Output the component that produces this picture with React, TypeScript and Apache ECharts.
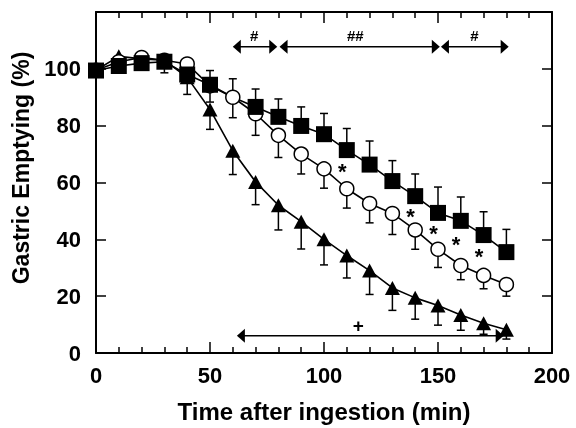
import React, { useEffect, useRef } from 'react';
import * as echarts from 'echarts';

const times = [0, 10, 20, 30, 40, 50, 60, 70, 80, 90, 100, 110, 120, 130, 140, 150, 160, 170, 180];

const squareMean = [99.4, 101, 102, 102.5, 98, 94.4, 90, 86.6, 83.1, 79.9, 77, 71.4, 66.3, 60.5, 55.2, 49.3, 46.5, 41.5, 35.5];
const squareErr = [1, 1, 1, 1, 1, 5, 6.5, 6.3, 6.3, 6.7, 7.3, 7.6, 8.3, 7.2, 7.8, 9.1, 8.4, 8.2, 8];
const squareHidden = [60];

const circleMean = [99.5, 102.5, 104, 103, 101.7, 94, 90, 84.2, 76.6, 70, 64.8, 57.8, 52.6, 49.1, 43.3, 36.5, 30.8, 27.3, 24.1];
const circleErr = [1, 1, 1, 4.4, 2, 5.7, 7.2, 7.6, 7.8, 7, 6.8, 6.8, 6.8, 7.4, 6.8, 6.4, 5, 4.7, 4.1];

const triangleMean = [99.5, 104.4, 103.5, 103, 97, 85.7, 71.2, 60.2, 52, 46.2, 40, 34.3, 29, 22.9, 19.4, 16.7, 13.4, 10.5, 8.2];
const triangleErr = [1, 1, 1, 1, 6, 7, 8.4, 8, 8.7, 9.6, 9, 7.9, 8.4, 7.9, 7.5, 6.9, 5.4, 3.9, 3.3];

// [xStart, xEnd, y]
const arrowSpans: number[][] = [
  [60, 79.5, 107.8],
  [80.5, 150.8, 107.8],
  [151.3, 181, 107.8],
  [61.8, 178.8, 6.1],
];

// [x, y, text]
const marks: [number, number, string][] = [
  [69.4, 111.9, '#'],
  [113.7, 111.9, '##'],
  [166, 111.9, '#'],
  [115, 9.6, '+'],
  [108, 65.5, '*'],
  [137.9, 49.7, '*'],
  [148, 43.8, '*'],
  [157.9, 39.9, '*'],
  [168, 35.7, '*'],
];

const xTicks = { min: 0, max: 200, interval: 50 };
const yTicks = { min: 0, max: 120, interval: 20 };

const FONT = '"Liberation Sans", Arial, Helvetica, sans-serif';

function errRender(dir: number) {
  return (params: any, api: any) => {
    const x = api.value(0);
    const m = api.value(1);
    const e = api.value(2);
    const p0 = api.coord([x, m]);
    const p1 = api.coord([x, m + dir * e]);
    const w = 4;
    const st = { stroke: '#000', lineWidth: 1.5 };
    return {
      type: 'group',
      children: [
        { type: 'line', shape: { x1: p0[0], y1: p0[1], x2: p1[0], y2: p1[1] }, style: st },
        { type: 'line', shape: { x1: p1[0] - w, y1: p1[1], x2: p1[0] + w, y2: p1[1] }, style: st },
      ],
    };
  };
}

function arrowRender(params: any, api: any) {
  const s = arrowSpans[params.dataIndex];
  const a = api.coord([s[0], s[2]]);
  const b = api.coord([s[1], s[2]]);
  const L = 8;
  const h = 7;
  const y = a[1];
  return {
    type: 'group',
    children: [
      { type: 'line', shape: { x1: a[0] + 2, y1: y, x2: b[0] - 2, y2: y }, style: { stroke: '#000', lineWidth: 1.5 } },
      { type: 'polygon', shape: { points: [[a[0], y], [a[0] + L, y - h], [a[0] + L, y + h]] }, style: { fill: '#000' } },
      { type: 'polygon', shape: { points: [[b[0], y], [b[0] - L, y - h], [b[0] - L, y + h]] }, style: { fill: '#000' } },
    ],
  };
}

function markRender(params: any, api: any) {
  const m = marks[params.dataIndex];
  const p = api.coord([m[0], m[1]]);
  const isStar = m[2] === '*';
  const size = isStar ? 22 : m[2] === '+' ? 19 : 15;
  return {
    type: 'text',
    x: p[0],
    y: p[1] + (isStar ? 5 : 0),
    style: {
      text: m[2],
      fill: '#000',
      font: `bold ${size}px ${FONT}`,
      fontSize: size,
      fontWeight: 'bold',
      fontFamily: FONT,
      align: 'center',
      verticalAlign: 'middle',
      textAlign: 'center',
      textVerticalAlign: 'middle',
    },
  };
}

const axisLineStyle = { lineStyle: { color: '#000', width: 2 } };

export default function App() {
  const ref = useRef<HTMLDivElement>(null);
  useEffect(() => {
    const chart = echarts.init(ref.current!, null, { renderer: 'svg' });
    const xCommon = {
      type: 'value' as const,
      ...xTicks,
      axisLine: { show: true, onZero: false, ...axisLineStyle },
      axisTick: { show: true, inside: true, length: 11, lineStyle: { color: '#000', width: 1.5 } },
      minorTick: { show: true, splitNumber: 5, length: 6, lineStyle: { color: '#000', width: 1.5 } },
      splitLine: { show: false },
      minorSplitLine: { show: false },
    };
    const yCommon = {
      type: 'value' as const,
      ...yTicks,
      axisLine: { show: true, onZero: false, ...axisLineStyle },
      axisTick: { show: true, inside: true, length: 10, lineStyle: { color: '#000', width: 1.5 } },
      splitLine: { show: false },
    };
    const labelStyle = { color: '#000', fontFamily: FONT, fontWeight: 'bold' as const, fontSize: 22 };
    const lineCommon = {
      type: 'line' as const,
      silent: true,
      lineStyle: { color: '#000', width: 1.6 },
      emphasis: { disabled: true },
      z: 3,
    };
    chart.setOption({
      animation: false,
      grid: { left: 96, right: 24, top: 12, bottom: 72 },
      xAxis: [
        {
          ...xCommon,
          position: 'bottom',
          axisLabel: { ...labelStyle, margin: 11 },
          name: 'Time after ingestion (min)',
          nameLocation: 'middle',
          nameGap: 46,
          nameTextStyle: { color: '#000', fontFamily: FONT, fontWeight: 'bold', fontSize: 24 },
        },
        { ...xCommon, position: 'top', axisLabel: { show: false } },
      ],
      yAxis: [
        {
          ...yCommon,
          position: 'left',
          axisLabel: { ...labelStyle, margin: 15, formatter: (v: number) => (v === 120 ? '' : String(v)) },
        },
        { ...yCommon, position: 'right', axisLabel: { show: false } },
      ],
      graphic: [
        {
          type: 'text',
          x: 21,
          y: 168,
          rotation: Math.PI / 2,
          style: {
            text: 'Gastric Emptying (%)',
            fill: '#000',
            font: `bold 23px ${FONT}`,
            align: 'center',
            verticalAlign: 'middle',
          },
        },
      ],
      series: [
        {
          type: 'custom',
          silent: true,
          z: 2,
          renderItem: errRender(-1),
          data: times.map((t, i) => [t, triangleMean[i], triangleErr[i]]),
        },
        {
          type: 'custom',
          silent: true,
          z: 2,
          renderItem: errRender(-1),
          data: times.map((t, i) => [t, circleMean[i], circleErr[i]]),
        },
        {
          type: 'custom',
          silent: true,
          z: 2,
          renderItem: errRender(1),
          data: times.map((t, i) => [t, squareMean[i], squareErr[i]]),
        },
        {
          ...lineCommon,
          name: 'triangle',
          symbol: 'triangle',
          symbolSize: [15, 14],
          itemStyle: { color: '#000' },
          data: times.map((t, i) => [t, triangleMean[i]]),
        },
        {
          ...lineCommon,
          name: 'circle',
          symbol: 'circle',
          symbolSize: 14,
          itemStyle: { color: '#fff', borderColor: '#000', borderWidth: 1.5 },
          data: times.map((t, i) => [t, circleMean[i]]),
        },
        {
          ...lineCommon,
          name: 'square',
          symbol: 'rect',
          symbolSize: 16,
          itemStyle: { color: '#000' },
          data: times.map((t, i) =>
            squareHidden.includes(t) ? { value: [t, squareMean[i]], symbol: 'none' } : [t, squareMean[i]]
          ),
        },
        {
          type: 'custom',
          silent: true,
          z: 4,
          renderItem: arrowRender,
          data: arrowSpans.map((s) => [s[0], s[2]]),
        },
        {
          type: 'custom',
          silent: true,
          z: 4,
          renderItem: markRender,
          data: marks.map((m) => [m[0], m[1]]),
        },
      ],
    });
    return () => chart.dispose();
  }, []);
  return <div ref={ref} style={{ position: 'fixed', left: 0, top: 0, width: 576, height: 428 }} />;
}
